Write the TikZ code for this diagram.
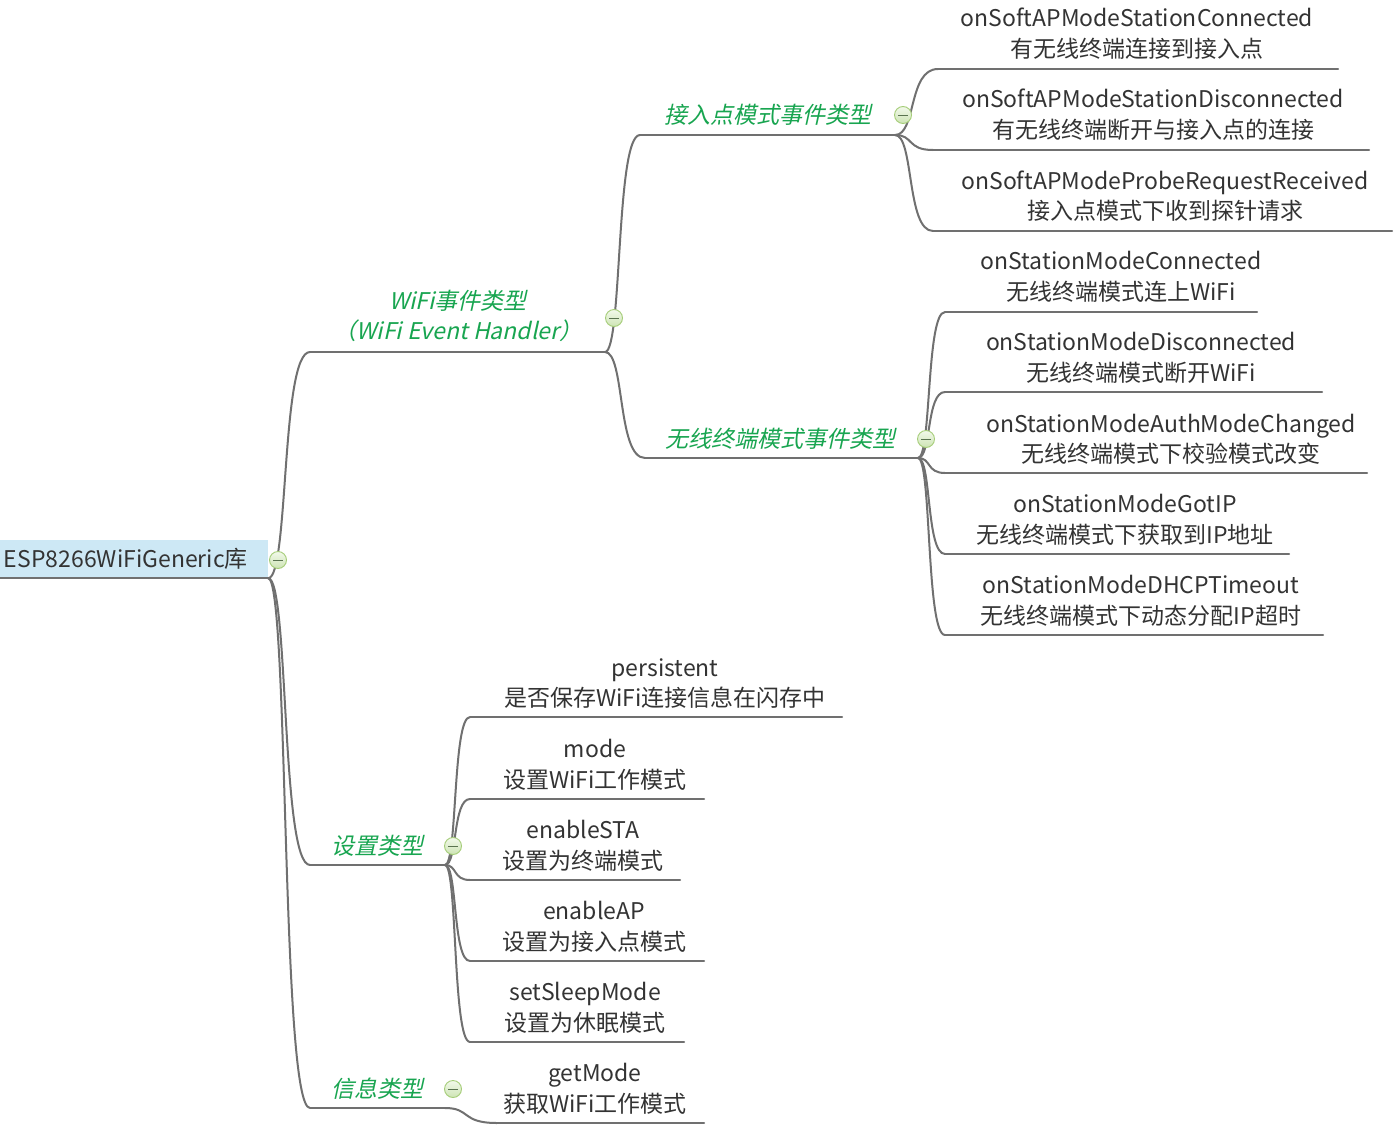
\documentclass[tikz,border=0pt]{standalone}
\usepackage{fontspec}
\setmainfont{Noto Sans CJK SC}
\newfontfamily\slfont[FakeSlant=0.22]{Noto Sans CJK SC}
\usetikzlibrary{calc}
\definecolor{linec}{RGB}{112,112,112}
\definecolor{txt}{RGB}{51,51,51}
\definecolor{grn}{RGB}{24,165,80}
\definecolor{rootfill}{RGB}{205,232,245}
\definecolor{cfillA}{RGB}{242,249,235}
\definecolor{cfillB}{RGB}{205,228,180}
\definecolor{cdraw}{RGB}{165,205,120}
\definecolor{cminus}{RGB}{90,115,80}
\begin{document}
\begin{tikzpicture}[x=1pt,y=-1pt,
  leaf/.style={align=center, inner sep=0pt, text=txt, font=\fontsize{23}{30.5}\selectfont},
  topic/.style={align=center, inner sep=0pt, text=grn, font=\slfont\fontsize{23}{30.5}\selectfont},
  uline/.style={draw=linec, line width=2pt, line cap=round},
  conn/.style={draw=linec, line width=2pt, to path={.. controls ($(\tikztostart)!0.5!(\tikztotarget|-\tikztostart)$) and ($(\tikztostart|-\tikztotarget)!0.3!(\tikztotarget)$) .. (\tikztotarget)}},
  fold/.style={circle, minimum size=17pt, inner sep=0pt, draw=cdraw, line width=0.9pt, top color=cfillA, bottom color=cfillB,
    path picture={\draw[cminus, line width=1pt] ($(path picture bounding box.center)+(-5,0)$) -- ($(path picture bounding box.center)+(5,0)$);}},
  rootbox/.style={fill=rootfill, text width=260pt, align=left, inner xsep=4pt, inner ysep=0pt, minimum height=38pt, text=txt, font=\fontsize{23}{28}\selectfont}
]
\useasboundingbox[fill=white] (0,0) rectangle (1394,1132);

% root
\node[rootbox] (root) at (134,559) {ESP8266WiFiGeneric库};
\draw[draw=linec, line width=2pt] (root.south west) -- (root.south east);

% level 1 topics
\node[topic] (wifi) at (458,316) {WiFi事件类型\\（WiFi Event Handler）};
\coordinate (wifis) at (310,352); \coordinate (wifie) at (605,352);
\node[topic] (set) at (377,846) {设置类型};
\coordinate (sets) at (310,865); \coordinate (sete) at (445,865);
\node[topic] (info) at (377,1089) {信息类型};
\coordinate (infos) at (310,1108); \coordinate (infoe) at (445,1108);

% level 2 topics
\node[topic] (ap) at (768,115) {接入点模式事件类型};
\coordinate (aps) at (640,135); \coordinate (ape) at (895,135);
\node[topic] (sta) at (780,439) {无线终端模式事件类型};
\coordinate (stas) at (645,458); \coordinate (stae) at (918,458);

% AP leaves
\node[leaf] (a1) at (1137,33.5) {onSoftAPModeStationConnected\\有无线终端连接到接入点};
\coordinate (a1s) at (938,69); \coordinate (a1e) at (1338,69);
\node[leaf] (a2) at (1153,114.5) {onSoftAPModeStationDisconnected\\有无线终端断开与接入点的连接};
\coordinate (a2s) at (933,150); \coordinate (a2e) at (1369,150);
\node[leaf] (a3) at (1165,196) {onSoftAPModeProbeRequestReceived\\接入点模式下收到探针请求};
\coordinate (a3s) at (933,231); \coordinate (a3e) at (1392,231);

% Station leaves
\node[leaf] (s1) at (1121,277) {onStationModeConnected\\无线终端模式连上WiFi};
\coordinate (s1s) at (945,312); \coordinate (s1e) at (1257,312);
\node[leaf] (s2) at (1141,358) {onStationModeDisconnected\\无线终端模式断开WiFi};
\coordinate (s2s) at (945,392); \coordinate (s2e) at (1322,392);
\node[leaf] (s3) at (1171,439.5) {onStationModeAuthModeChanged\\无线终端模式下校验模式改变};
\coordinate (s3s) at (945,473); \coordinate (s3e) at (1367,473);
\node[leaf] (s4) at (1125,520) {onStationModeGotIP\\无线终端模式下获取到IP地址};
\coordinate (s4s) at (945,554); \coordinate (s4e) at (1289,554);
\node[leaf] (s5) at (1141,601) {onStationModeDHCPTimeout\\无线终端模式下动态分配IP超时};
\coordinate (s5s) at (945,635); \coordinate (s5e) at (1323,635);

% setting leaves
\node[leaf] (p1) at (665,683.5) {persistent\\是否保存WiFi连接信息在闪存中};
\coordinate (p1s) at (470,717); \coordinate (p1e) at (842,717);
\node[leaf] (p2) at (595,765) {mode\\设置WiFi工作模式};
\coordinate (p2s) at (470,799); \coordinate (p2e) at (704,799);
\node[leaf] (p3) at (583,846) {enableSTA\\设置为终端模式};
\coordinate (p3s) at (470,880); \coordinate (p3e) at (680,880);
\node[leaf] (p4) at (594,927) {enableAP\\设置为接入点模式};
\coordinate (p4s) at (470,961); \coordinate (p4e) at (704,961);
\node[leaf] (p5) at (585,1008) {setSleepMode\\设置为休眠模式};
\coordinate (p5s) at (470,1042); \coordinate (p5e) at (684,1042);

% info leaf
\node[leaf] (g1) at (595,1089) {getMode\\获取WiFi工作模式};
\coordinate (g1s) at (497,1123); \coordinate (g1e) at (704,1123);

% underlines
\foreach \n in {wifi,set,info,ap,sta,a1,a2,a3,s1,s2,s3,s4,s5,p1,p2,p3,p4,p5,g1}
  \draw[uline] (\n s) -- (\n e);

% connectors
\draw[conn] (root.south east) to (wifis);
\draw[conn] (root.south east) to (sets);
\draw[conn] (root.south east) to (infos);
\draw[conn] (wifie) to (aps);
\draw[conn] (wifie) to (stas);
\foreach \n in {a1,a2,a3} \draw[conn] (ape) to (\n s);
\foreach \n in {s1,s2,s3,s4,s5} \draw[conn] (stae) to (\n s);
\foreach \n in {p1,p2,p3,p4,p5} \draw[conn] (sete) to (\n s);
\draw[conn] (infoe) to (g1s);

% fold markers
\node[fold] (froot) at (278,560) {};
\node[fold] (fwifi) at (614,318) {};
\node[fold] (fap) at (903,115) {};
\node[fold] (fsta) at (926,439) {};
\node[fold] (fset) at (453,846) {};
\node[fold] (finfo) at (453,1089) {};
\end{tikzpicture}
\end{document}
